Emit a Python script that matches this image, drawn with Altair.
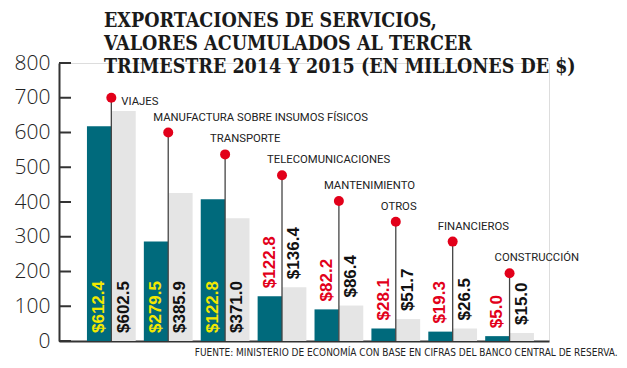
import altair as alt
import pandas as pd

categories = ["VIAJES", "MANUFACTURA SOBRE INSUMOS FÍSICOS", "TRANSPORTE",
              "TELECOMUNICACIONES", "MANTENIMIENTO", "OTROS", "FINANCIEROS",
              "CONSTRUCCIÓN"]
series = ["2014", "2015"]
bars_2014 = [618, 286, 408, 129, 91, 36, 27, 14]
bars_2015 = [662, 426, 353, 155, 102, 63, 36, 23]
labels_2014 = ["$612.4", "$279.5", "$122.8", "$122.8", "$82.2", "$28.1", "$19.3", "$5.0"]
labels_2015 = ["$602.5", "$385.9", "$371.0", "$136.4", "$86.4", "$51.7", "$26.5", "$15.0"]
marker_values = [700, 600, 537, 477, 403, 343, 286, 195]
y_ticks = [0, 100, 200, 300, 400, 500, 600, 700, 800]
title_lines = ["EXPORTACIONES DE SERVICIOS,",
               "VALORES ACUMULADOS AL TERCER",
               "TRIMESTRE 2014 Y 2015 (EN MILLONES DE $)"]
source_note = "FUENTE: MINISTERIO DE ECONOMÍA CON BASE EN CIFRAS DEL BANCO CENTRAL DE RESERVA."

TEAL = "#006a7c"
GRAY = "#e5e5e5"
RED = "#e2001a"
YELLOW = "#f3e800"

bars_df = pd.DataFrame({
    "cat": categories * 2,
    "serie": [series[0]] * len(categories) + [series[1]] * len(categories),
    "valor": bars_2014 + bars_2015,
    "etiqueta": labels_2014 + labels_2015,
})
markers_df = pd.DataFrame({"cat": categories, "marca": marker_values})
ticks_df = pd.DataFrame({"t": y_ticks})

x_axis = alt.Axis(labels=False, ticks=False, domain=True, domainColor="#333",
                  domainWidth=2, title=source_note, titleX=558, titleY=11,
                  titleAlign="right", titleBaseline="middle",
                  titleFont="DejaVu Sans Condensed", titleFontSize=10,
                  titleFontWeight="normal", titleColor="#222")
x_scale = alt.Scale(paddingInner=0.143, paddingOuter=0.378, align=0.65)
x_enc = alt.X("cat:N", sort=categories, scale=x_scale, axis=x_axis)

y_scale = alt.Scale(domain=[0, 800], nice=False)
y_axis = alt.Axis(values=y_ticks, ticks=False, tickSize=0, labelPadding=9,
                  labelOverlap=False, labelFlush=False,
                  labelFont="Open Sans", labelFontSize=21, labelFontWeight=300,
                  labelColor="#222",
                  domainColor="#333", domainWidth=2, grid=False, title=None)


def y_enc(field):
    return alt.Y(f"{field}:Q", scale=y_scale, axis=y_axis)


x_off = alt.XOffset("serie:N", sort=series, scale=alt.Scale(paddingInner=0, paddingOuter=0))

base = alt.Chart(bars_df)

bars = base.mark_bar().encode(
    x=x_enc,
    xOffset=x_off,
    y=y_enc("valor"),
    color=alt.Color("serie:N", scale=alt.Scale(domain=series, range=[TEAL, GRAY]), legend=None),
)

ticks = alt.Chart(ticks_df).mark_rule(color="#333", strokeWidth=2).encode(
    y=y_enc("t"),
    x=alt.value(0), x2=alt.value(12),
)

stems = alt.Chart(markers_df).mark_rule(color="#444", strokeWidth=1.3).encode(
    x=x_enc,
    y=y_enc("marca"),
    y2=alt.datum(0),
)

dots = alt.Chart(markers_df).mark_circle(color=RED, size=100, opacity=1).encode(
    x=x_enc,
    y=y_enc("marca"),
)

cat_first = alt.Chart(markers_df).transform_filter(
    alt.datum.cat == categories[0]
).mark_text(align="left", baseline="middle", dx=10, dy=4, font="Roboto",
            fontSize=11.3, color="#222").encode(
    x=x_enc,
    y=y_enc("marca"),
    text="cat:N",
)
cat_rest = alt.Chart(markers_df).transform_filter(
    alt.datum.cat != categories[0]
).mark_text(align="left", baseline="middle", dx=-15, dy=-15, font="Roboto",
            fontSize=11.3, color="#222").encode(
    x=x_enc,
    y=y_enc("marca"),
    text="cat:N",
)

value_labels = base.transform_calculate(
    pos="datum.valor > 200 ? 0 : datum.valor",
    col=f"datum.serie == '{series[1]}' ? '#111' : (datum.valor > 200 ? '{YELLOW}' : '{RED}')",
).mark_text(angle=270, align="left", baseline="middle", dx=8,
            font="Liberation Sans", fontWeight="bold", fontSize=17).encode(
    x=x_enc,
    xOffset=x_off,
    y=y_enc("pos"),
    text="etiqueta:N",
    color=alt.Color("col:N", scale=None),
)

chart = alt.layer(bars, stems, ticks, dots, cat_first, cat_rest, value_labels).properties(
    width=490, height=278,
    padding={"left": 51, "top": 55, "right": 70, "bottom": 19},
    autosize=alt.AutoSizeParams(type="none"),
    title=alt.TitleParams(text=title_lines, anchor="start", frame="group",
                          font="DejaVu Serif Condensed", fontWeight="bold",
                          fontSize=19.5, lineHeight=23, color="#1a1a1a",
                          baseline="top", offset=0, dx=45, dy=25),
).configure_view(stroke=None).configure(background="white")

chart.save("out.html", embed_options={"renderer": "svg", "actions": False})
